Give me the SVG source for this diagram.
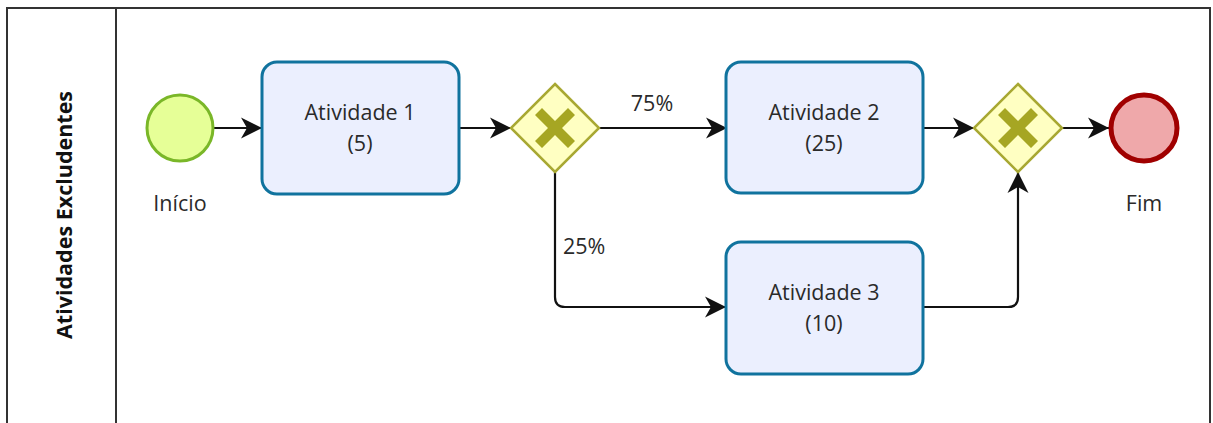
<svg xmlns="http://www.w3.org/2000/svg" width="1213" height="423" viewBox="0 0 1213 423">
  <style>
    .pool { fill: #ffffff; stroke: #333333; stroke-width: 2; }
    .lane-title { font-family: "Open Sans", "Liberation Sans", sans-serif; font-weight: bold; font-size: 21.5px; fill: #111111; }
    .label { font-family: "Open Sans", "Liberation Sans", sans-serif; font-size: 21.5px; fill: #2a2a2a; }
    .task rect { fill: #EBEFFE; stroke: #10739E; stroke-width: 3; }
    .gw-shape { fill: #FFFFC2; stroke: #A8A832; stroke-width: 2.5; }
    .gw-cross { fill: #A6A623; }
    .flow { fill: none; stroke: #111111; stroke-width: 2.2; marker-end: url(#arrow); }
  </style>
  <defs>
    <marker id="arrow" markerUnits="userSpaceOnUse" markerWidth="24" markerHeight="24" viewBox="0 0 24 24" refX="22" refY="12" orient="auto">
      <path d="M1,1.5 L22,12 L1,22.5 L7,12 Z" fill="#111111"/>
    </marker>
    <!-- exclusive gateway cross, centred on the origin -->
    <path id="cross" d="M-13,-20 L0,-7 L13,-20 L20,-13 L7,0 L20,13 L13,20 L0,7 L-13,20 L-20,13 L-7,0 L-20,-13 Z"/>
  </defs>

  <!-- pool and lane -->
  <g id="pool">
    <rect class="pool" x="7" y="8" width="1203" height="440"/>
    <line x1="116" y1="8" x2="116" y2="423" stroke="#333333" stroke-width="2"/>
    <text class="lane-title" transform="translate(72,215) rotate(-90)" text-anchor="middle">Atividades Excludentes</text>
  </g>

  <!-- sequence flows -->
  <g id="connectors">
    <path class="flow" d="M213,128 H262"/>
    <path class="flow" d="M460,128 H511"/>
    <path class="flow" d="M599,128 H727"/>
    <path class="flow" d="M555,172 V297 Q555,307 565,307 H726"/>
    <path class="flow" d="M922,128 H974"/>
    <path class="flow" d="M923,307 H1008 Q1018,307 1018,297 V172"/>
    <path class="flow" d="M1062,128 H1109"/>
    <text class="label" x="652" y="111" text-anchor="middle">75%</text>
    <text class="label" x="563" y="254">25%</text>
  </g>

  <g id="start">
    <circle cx="180" cy="128" r="33" fill="#E6FF97" stroke="#7AB728" stroke-width="3"/>
    <text class="label" x="180" y="211" text-anchor="middle">Início</text>
  </g>

  <g id="task1" class="task">
    <rect x="262" y="62" width="197" height="132" rx="15"/>
    <text class="label" x="360" y="120" text-anchor="middle">Atividade 1</text>
    <text class="label" x="360" y="151" text-anchor="middle">(5)</text>
  </g>

  <g id="gateway1">
    <path class="gw-shape" d="M555,84 L599,128 L555,172 L511,128 Z"/>
    <use href="#cross" class="gw-cross" x="555" y="128"/>
  </g>

  <g id="task2" class="task">
    <rect x="726" y="62" width="197" height="131" rx="15"/>
    <text class="label" x="824" y="120" text-anchor="middle">Atividade 2</text>
    <text class="label" x="824" y="151" text-anchor="middle">(25)</text>
  </g>

  <g id="task3" class="task">
    <rect x="726" y="242" width="197" height="132" rx="15"/>
    <text class="label" x="824" y="300" text-anchor="middle">Atividade 3</text>
    <text class="label" x="824" y="331" text-anchor="middle">(10)</text>
  </g>

  <g id="gateway2">
    <path class="gw-shape" d="M1018,84 L1062,128 L1018,172 L974,128 Z"/>
    <use href="#cross" class="gw-cross" x="1018" y="128"/>
  </g>

  <g id="end">
    <circle cx="1144" cy="128" r="33" fill="#EFA8AA" stroke="#A00000" stroke-width="5"/>
    <text class="label" x="1144" y="211" text-anchor="middle">Fim</text>
  </g>
</svg>
